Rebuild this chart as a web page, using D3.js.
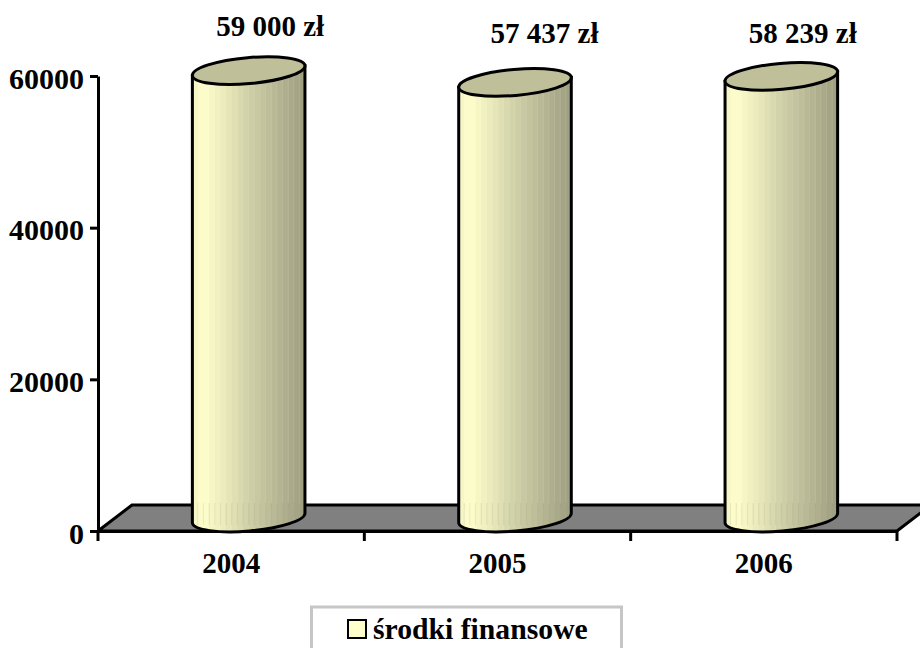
<!DOCTYPE html>
<html>
<head>
<meta charset="utf-8">
<script src="https://cdn.jsdelivr.net/npm/d3@7"></script>
<style>
  html, body { margin: 0; padding: 0; background: #fff; overflow: hidden; }
  text { font-family: "Liberation Serif", serif; font-weight: bold; fill: #000; }
</style>
</head>
<body>
<div id="chart"></div>
<script>
const years = ["2004", "2005", "2006"];
const values = [59000, 57437, 58239];
const valueLabels = ["59 000 zł", "57 437 zł", "58 239 zł"];
const yTicks = [0, 20000, 40000, 60000];
const seriesName = "środki finansowe";

const width = 920, height = 648;
const fontSize = 29;
const lineW = 3;

// axis box
const x = d3.scaleBand().domain(years).range([98, 897]);
const y = d3.scaleLinear().domain([0, 60000]).range([531, 76]);

const svg = d3.select("#chart").append("svg")
    .attr("width", width)
    .attr("height", height)
    .style("display", "block");

const defs = svg.append("defs");

// 3d depth offset of the floor
const depthX = 34, depthY = 26;

// floor
const floor = [[x.range()[0], y(0)], [x.range()[0] + depthX, y(0) - depthY],
               [x.range()[1] + depthX, y(0) - depthY], [x.range()[1], y(0)]];
svg.append("path")
    .attr("d", d3.line()(floor) + "Z")
    .attr("fill", "#808080")
    .attr("stroke", "#000")
    .attr("stroke-width", lineW);

// axes
const yAxis = svg.append("g")
    .attr("transform", "translate(" + x.range()[0] + ",0)")
    .call(d3.axisLeft(y).tickValues(yTicks).tickFormat(d3.format("d")).tickSize(8).tickSizeOuter(0).tickPadding(6));
const xAxis = svg.append("g")
    .attr("transform", "translate(0," + y(0) + ")")
    .call(d3.axisBottom(x).tickValues([]).tickSize(0));

// band edges carry the tick marks, labels sit in the band centre
xAxis.selectAll(".edge")
    .data(years.concat("end"))
  .enter().append("line")
    .attr("class", "edge")
    .attr("x1", (d, i) => x.range()[0] + i * x.bandwidth())
    .attr("x2", (d, i) => x.range()[0] + i * x.bandwidth())
    .attr("y1", 0)
    .attr("y2", 10);
xAxis.selectAll(".year")
    .data(years)
  .enter().append("text")
    .attr("class", "year")
    .attr("x", d => x(d) + x.bandwidth() / 2)
    .attr("y", 42)
    .attr("text-anchor", "middle")
    .text(d => d);

svg.selectAll(".domain, .tick line, .edge")
    .attr("stroke", "#000")
    .attr("stroke-width", lineW);
svg.selectAll("text")
    .attr("font-size", fontSize)
    .attr("font-family", "Liberation Serif")
    .attr("font-weight", "bold")
    .attr("fill", "#000");
yAxis.selectAll("text").attr("font-size", 30).attr("dy", "0.4em");

// cylinders
const rx = 56.5, ry = 13, tilt = -5;
const tiltRad = tilt * Math.PI / 180;
const cylOffset = 17.5;
const shade = d3.scaleLinear()
    .domain([0, 0.08, 0.5, 1])
    .range(["#f6f6c6", "#ffffcc", "#d0d0a8", "#a0a082"]);
const stripCount = 20;

function ellipsePath(cx, cy) {
  // tilted ellipse as two svg arcs
  const dx = rx * Math.cos(tiltRad), dy = rx * Math.sin(tiltRad);
  return "M" + (cx - dx) + "," + (cy - dy) +
    "A" + rx + "," + ry + " " + tilt + " 1 1 " + (cx + dx) + "," + (cy + dy) +
    "A" + rx + "," + ry + " " + tilt + " 1 1 " + (cx - dx) + "," + (cy - dy) + "Z";
}

function bodyPath(cx, top, bottom) {
  const dx = rx * Math.cos(tiltRad), dy = rx * Math.sin(tiltRad);
  return "M" + (cx - dx) + "," + (top - dy) +
    "L" + (cx - dx) + "," + (bottom - dy) +
    "A" + rx + "," + ry + " " + tilt + " 0 0 " + (cx + dx) + "," + (bottom + dy) +
    "L" + (cx + dx) + "," + (top + dy) + "Z";
}

years.forEach(function(year, i) {
  const cx = x(year) + x.bandwidth() / 2 + cylOffset;
  const baseY = y(0) - ry;
  const topY = y(values[i]) - ry;
  const id = "clip" + year;
  const g = svg.append("g");

  defs.append("clipPath").attr("id", id)
    .append("path").attr("d", bodyPath(cx, topY, baseY));

  const strips = g.append("g").attr("clip-path", "url(#" + id + ")");
  strips.selectAll("rect")
      .data(d3.range(stripCount))
    .enter().append("rect")
      .attr("x", d => cx - rx + d * 2 * rx / stripCount)
      .attr("y", topY - 30)
      .attr("width", 2 * rx / stripCount + 0.6)
      .attr("height", baseY - topY + 80)
      .attr("fill", d => shade(d / (stripCount - 1)));

  // faint seams along the strips, a little stronger where the floor sits behind
  strips.selectAll("line.seam")
      .data(d3.range(1, stripCount))
    .enter().append("line")
      .attr("class", "seam")
      .attr("x1", d => cx - rx + d * 2 * rx / stripCount)
      .attr("x2", d => cx - rx + d * 2 * rx / stripCount)
      .attr("y1", topY - 30)
      .attr("y2", y(0))
      .attr("stroke", "#ffffff")
      .attr("stroke-opacity", 0.13)
      .attr("stroke-width", 0.8);
  strips.selectAll("line.tick3d")
      .data(d3.range(1, stripCount))
    .enter().append("line")
      .attr("class", "tick3d")
      .attr("x1", d => cx - rx + d * 2 * rx / stripCount)
      .attr("x2", d => cx - rx + d * 2 * rx / stripCount)
      .attr("y1", y(0) - depthY - 2)
      .attr("y2", y(0) - 6)
      .attr("stroke", "#777755")
      .attr("stroke-opacity", 0.18)
      .attr("stroke-width", 0.7);

  g.append("path")
    .attr("d", bodyPath(cx, topY, baseY))
    .attr("fill", "none")
    .attr("stroke", "#000")
    .attr("stroke-width", lineW);
  g.append("path")
    .attr("d", ellipsePath(cx, topY))
    .attr("fill", "#bfbf99")
    .attr("stroke", "#000")
    .attr("stroke-width", lineW);
});

// value labels, placed by hand as they are in the picture
const labelDx = [39, 47, 39];
const labelY = [36, 43, 43];
svg.selectAll(".value")
    .data(valueLabels)
  .enter().append("text")
    .attr("class", "value")
    .attr("x", (d, i) => x(years[i]) + x.bandwidth() / 2 + labelDx[i])
    .attr("y", (d, i) => labelY[i])
    .attr("text-anchor", "middle")
    .attr("font-size", fontSize)
    .attr("font-family", "Liberation Serif")
    .attr("font-weight", "bold")
    .text(d => d);

// legend
const legend = svg.append("g");
legend.append("rect")
    .attr("x", 311.5)
    .attr("y", 607)
    .attr("width", 310)
    .attr("height", 60)
    .attr("fill", "#fff")
    .attr("stroke", "#c6c6c6")
    .attr("stroke-width", 3);
legend.append("rect")
    .attr("x", 348)
    .attr("y", 620)
    .attr("width", 18)
    .attr("height", 18)
    .attr("fill", "#ffffcc")
    .attr("stroke", "#000")
    .attr("stroke-width", 2);
legend.append("text")
    .attr("x", 373)
    .attr("y", 639)
    .attr("font-size", 29.7)
    .attr("font-family", "Liberation Serif")
    .attr("font-weight", "bold")
    .text(seriesName);
</script>
</body>
</html>
